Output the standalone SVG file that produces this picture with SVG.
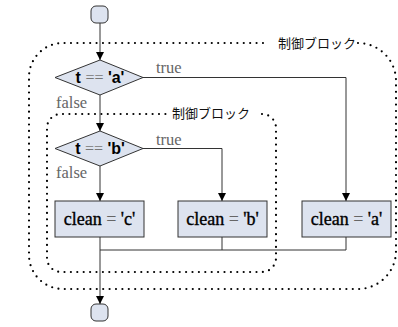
<svg xmlns="http://www.w3.org/2000/svg" width="398" height="327" viewBox="0 0 398 327">
  <style>
    .term { fill: #dde3ef; stroke: #333; stroke-width: 1; }
    .box { fill: #dde3ef; stroke: #333; stroke-width: 1; }
    .edge { fill: none; stroke: #333; stroke-width: 1; }
    .block { fill: none; stroke: #000; stroke-width: 2.2; stroke-linecap: round; stroke-dasharray: 0 6.4; }
    .blabel { font-family: "Noto Sans CJK JP", "Noto Sans", sans-serif; font-size: 13px; fill: #111; }
    .cond { font-family: "Liberation Sans", Arial, sans-serif; font-size: 16px; font-weight: bold; fill: #000; text-anchor: middle; }
    .eq { font-family: "Liberation Serif", "DejaVu Serif", serif; font-weight: normal; fill: #777; }
    .stmt { font-family: "Liberation Serif", "DejaVu Serif", serif; font-size: 18px; fill: #000; stroke: #000; stroke-width: 0.35; text-anchor: middle; }
    .stmt .op { fill: #666; stroke: none; }
    .branch { font-family: "Liberation Serif", "DejaVu Serif", serif; font-size: 16.5px; fill: #666; }
  </style>
  <defs>
    <marker id="arrow" viewBox="0 0 10 10" refX="10" refY="5" markerWidth="8" markerHeight="8" markerUnits="userSpaceOnUse" orient="auto">
      <path d="M0,0 L10,5 L0,10 Z" fill="#000"/>
    </marker>
  </defs>

  <!-- control blocks (dotted) -->
  <g id="outer-block">
    <path class="block" d="M 358 43 A 38 38 0 0 1 396 81 V 251 A 38 38 0 0 1 358 289 H 63 A 34 34 0 0 1 29 255 V 77 A 34 34 0 0 1 63 43 H 266"/>
    <text class="blabel" x="278" y="48">制御ブロック</text>
  </g>
  <g id="inner-block">
    <path class="block" d="M 262 114 A 14 14 0 0 1 276 128 V 258 A 14 14 0 0 1 262 272 H 61 A 14 14 0 0 1 47 258 V 128 A 14 14 0 0 1 61 114 H 166"/>
    <text class="blabel" x="172" y="118">制御ブロック</text>
  </g>

  <!-- connectors -->
  <g id="connectors">
    <path class="edge" d="M 100 23 V 60" marker-end="url(#arrow)"/>
    <path class="edge" d="M 143 77.5 H 346 V 201" marker-end="url(#arrow)"/>
    <path class="edge" d="M 100 95 V 131" marker-end="url(#arrow)"/>
    <path class="edge" d="M 143 148.5 H 222 V 201" marker-end="url(#arrow)"/>
    <path class="edge" d="M 100 166 V 201" marker-end="url(#arrow)"/>
    <path class="edge" d="M 222 237 V 250"/>
    <path class="edge" d="M 346 237 V 250 H 100"/>
    <path class="edge" d="M 100 237 V 304" marker-end="url(#arrow)"/>
    <text class="branch" x="156" y="73">true</text>
    <text class="branch" x="56" y="108">false</text>
    <text class="branch" x="156" y="145">true</text>
    <text class="branch" x="56" y="178">false</text>
  </g>

  <!-- nodes -->
  <g id="start">
    <rect class="term" x="91" y="6" width="17" height="17" rx="5"/>
  </g>
  <g id="cond-a">
    <polygon class="box" points="100,60 143,77.5 100,95 55,77.5"/>
    <text class="cond" x="100" y="83">t <tspan class="eq">==</tspan> 'a'</text>
  </g>
  <g id="cond-b">
    <polygon class="box" points="100,131 143,148.5 100,166 55,148.5"/>
    <text class="cond" x="100" y="154">t <tspan class="eq">==</tspan> 'b'</text>
  </g>
  <g id="assign-c">
    <rect class="box" x="55" y="201" width="89" height="36"/>
    <text class="stmt" x="99.5" y="225">clean <tspan class="op">=</tspan> 'c'</text>
  </g>
  <g id="assign-b">
    <rect class="box" x="178" y="201" width="89" height="36"/>
    <text class="stmt" x="222.5" y="225">clean <tspan class="op">=</tspan> 'b'</text>
  </g>
  <g id="assign-a">
    <rect class="box" x="302" y="201" width="89" height="36"/>
    <text class="stmt" x="346.5" y="225">clean <tspan class="op">=</tspan> 'a'</text>
  </g>
  <g id="end">
    <rect class="term" x="91" y="304" width="17" height="17" rx="5"/>
  </g>
</svg>
